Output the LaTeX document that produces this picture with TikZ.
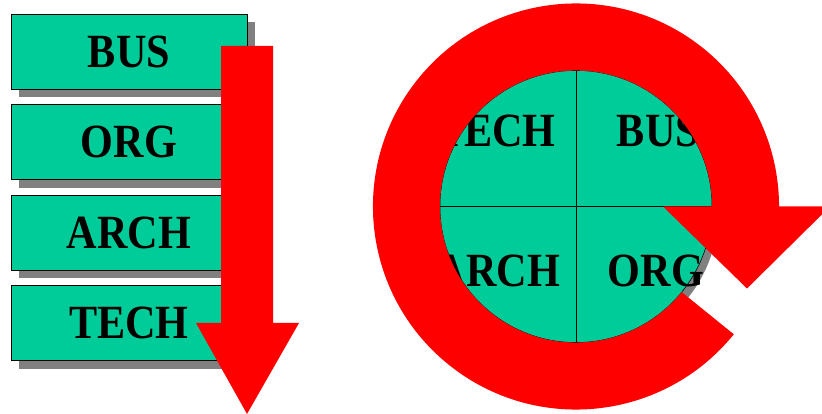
\documentclass[tikz,border=0pt]{standalone}
\usepackage{fontspec}
\setmainfont{Liberation Serif}
\usetikzlibrary{shadows,calc}

\definecolor{boxgreen}{RGB}{0,204,153}
\definecolor{shadowgray}{RGB}{128,128,128}

\newcommand{\tall}[1]{\scalebox{1}[1.13]{#1}}

\tikzset{
  lbl/.style={font=\fontsize{30}{36}\selectfont\bfseries, inner sep=0pt},
  layerbox/.style={lbl, draw=black, fill=boxgreen, minimum width=5.9cm,
    minimum height=1.875cm,
    drop shadow={fill=shadowgray, opacity=1, shadow xshift=0.2cm, shadow yshift=-0.2cm}},
}

\begin{document}
\begin{tikzpicture}[x=0.025cm, y=0.025cm]
\useasboundingbox (0,0) rectangle (822,414);

% stacked layers
\node[layerbox] (bus)  at (129,362.5) {\tall{BUS}};
\node[layerbox] (org)  at (129,272)   {\tall{ORG}};
\node[layerbox] (arch) at (129,181.5) {\tall{ARCH}};
\node[layerbox] (tech) at (129,91)    {\tall{TECH}};

% downward arrow
\fill[red] (221,368) -- (273,368) -- (273,91) -- (299,91) -- (247,0)
  -- (196,91) -- (221,91) -- cycle;

% circle of layers
\coordinate (c) at (576,207.5);
\fill[shadowgray] ($(c)+(6,-6)$) circle (3.4cm);
\filldraw[fill=boxgreen, draw=black] (c) circle (3.4cm);
\draw (c) ++(-136,0) -- ++(272,0);
\draw (c) ++(0,-136) -- ++(0,272);

\node[lbl] (ctech) at (496,283) {\tall{TECH}};
\node[lbl] (cbus)  at (658,283) {\tall{BUS}};
\node[lbl] (carch) at (498,143) {\tall{ARCH}};
\node[lbl] (corg)  at (656,143) {\tall{ORG}};

% circular arrow
\fill[red] ($(c)+(-39:5.075cm)$) arc[start angle=-39, end angle=-360, radius=5.075cm]
  -- ($(c)+(254,0)$) -- ($(c)+(171,-82)$) -- ($(c)+(87,0)$)
  -- ($(c)+(136,0)$) arc[start angle=0, end angle=321, radius=3.4cm] -- cycle;

\end{tikzpicture}
\end{document}
